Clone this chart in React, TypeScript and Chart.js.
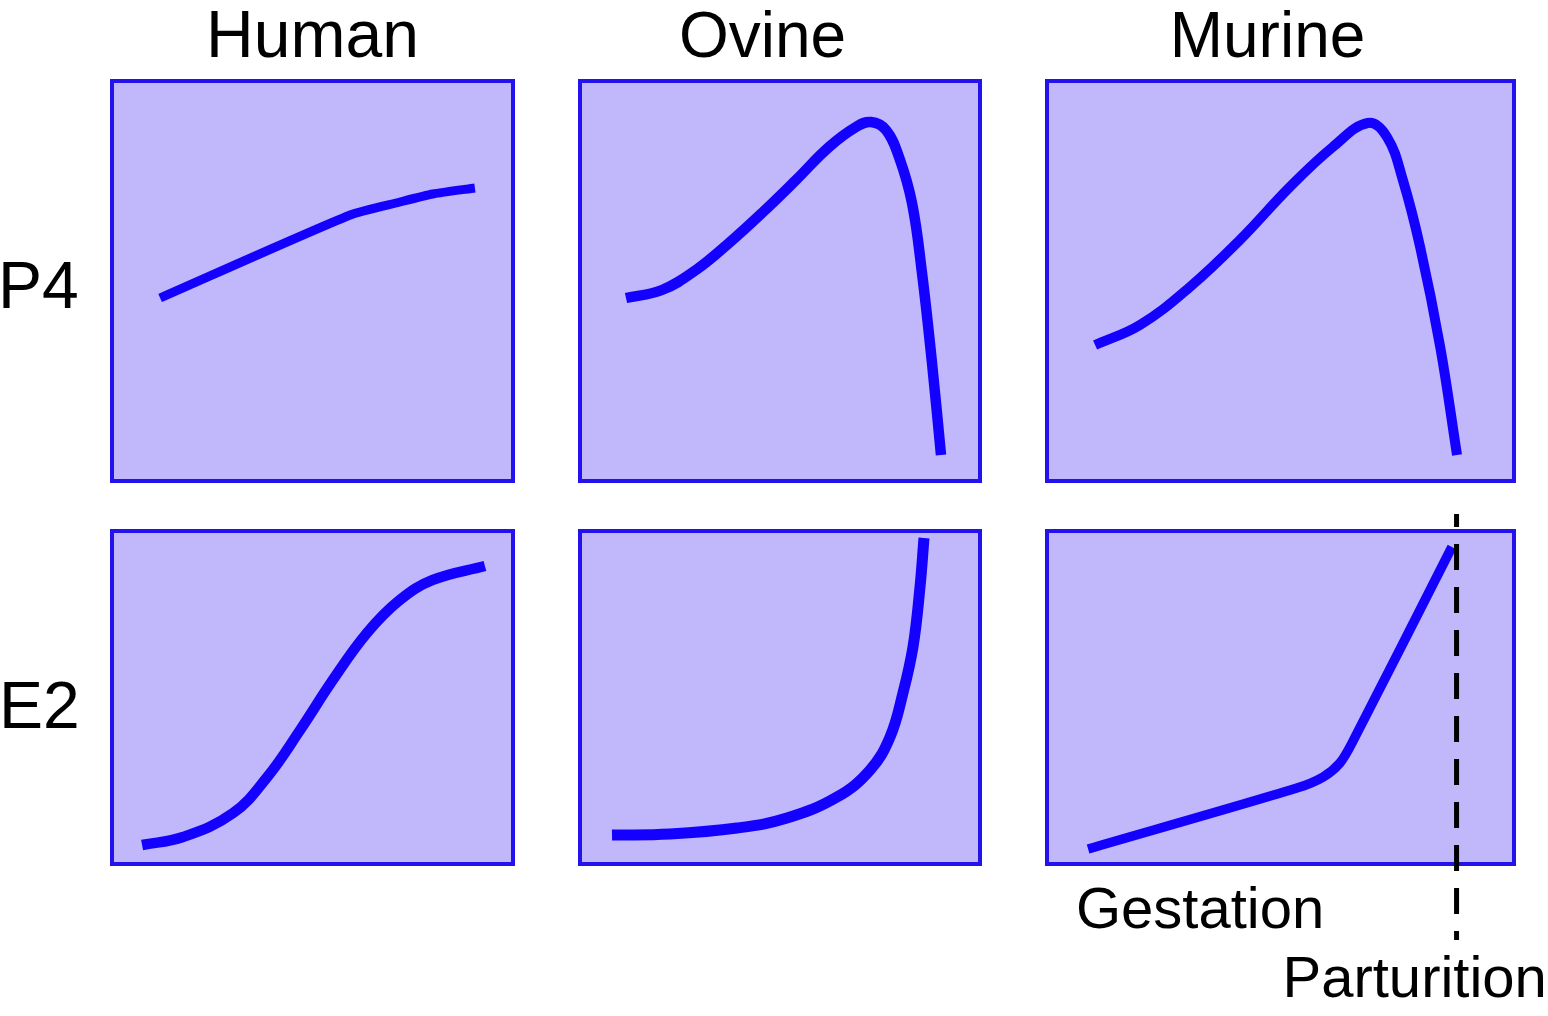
import React, { useEffect, useRef } from "react";
import { Chart, registerables } from "chart.js";

Chart.register(...registerables);

// ---- Data (x = % of gestation span shown in panel, y = relative hormone level %) ----
const HUMAN_P4_X = [12.0, 59.4, 71.8, 80.0, 90.5];
const HUMAN_P4_Y = [45.75, 66.5, 69.75, 71.75, 73.25];

const OVINE_P4_X = [11.5, 20.5, 29.0, 37.25, 45.5, 54.0, 62.25, 69.0, 72.75, 76.5, 79.75, 83.0, 85.5, 88.0, 90.25];
const OVINE_P4_Y = [45.75, 47.75, 52.75, 59.5, 67.0, 75.25, 83.5, 88.5, 89.75, 87.75, 81.0, 69.5, 52.0, 29.5, 6.5];

const MURINE_P4_X = [10.3, 19.9, 30.6, 41.3, 52.0, 61.2, 68.7, 72.8, 76.2, 79.9, 84.2, 87.8];
const MURINE_P4_Y = [34.0, 39.0, 48.5, 60.25, 73.5, 83.5, 89.5, 86.0, 75.25, 58.5, 33.5, 6.5];

const HUMAN_E2_X = [7.5, 17.7, 30.2, 38.7, 46.9, 55.1, 63.6, 71.8, 80.0, 93.0];
const HUMAN_E2_Y = [5.7, 8.1, 15.3, 26.1, 40.2, 55.3, 69.4, 79.3, 85.3, 89.5];

const OVINE_E2_X = [8.0, 22.5, 39.25, 51.75, 64.25, 72.5, 77.5, 80.75, 83.25, 85.0, 86.0];
const OVINE_E2_Y = [8.7, 9.0, 10.8, 13.8, 20.1, 28.2, 38.1, 51.4, 65.2, 83.2, 97.9];

const MURINE_E2_X = [8.8, 53.5, 59.1, 62.7, 65.3, 86.7];
const MURINE_E2_Y = [4.5, 22.8, 26.1, 30.3, 36.3, 95.2];

// Parturition marker (in Murine E2 panel units)
const PARTURITION_X = 87.7;
const PARTURITION_Y_RANGE = [105.1, -22.8];

const SPECIES = ["Human", "Ovine", "Murine"];
const HORMONES = ["P4", "E2"];
const AXIS_LABELS = ["Gestation", "Parturition"];

// ---- Styles ----
const FONT = '"Liberation Sans", Arial, Helvetica, sans-serif';
const FILL = "#c0b8fb";
const BORDER = "#2412ee";
const LINE = "#1400ff";

const COLS = [
  { left: 112, right: 513 },
  { left: 580, right: 980 },
  { left: 1047, right: 1514 },
];
const ROWS = [
  { top: 81, bottom: 481 },
  { top: 531, bottom: 864 },
];

const panelPlugin = {
  id: "panelBox",
  beforeDatasetsDraw(chart: any) {
    const { ctx, chartArea } = chart;
    const { left, top, right, bottom } = chartArea;
    ctx.save();
    ctx.fillStyle = FILL;
    ctx.fillRect(left, top, right - left, bottom - top);
    ctx.strokeStyle = BORDER;
    ctx.lineWidth = 4;
    ctx.strokeRect(left, top, right - left, bottom - top);
    ctx.restore();
  },
};

type PanelProps = {
  col: number;
  row: number;
  xs: number[];
  ys: number[];
  lineWidth: number;
  tension: number;
  marker?: boolean;
};

function Panel({ col, row, xs, ys, lineWidth, tension, marker }: PanelProps) {
  const ref = useRef<HTMLCanvasElement | null>(null);
  const c = COLS[col];
  const r = ROWS[row];
  const pad = 4;
  const padTop = marker ? 26 : pad;
  const padBottom = marker ? 86 : pad;
  const w = c.right - c.left + pad * 2;
  const h = r.bottom - r.top + padTop + padBottom;

  useEffect(() => {
    if (!ref.current) return;
    const datasets: any[] = [];
    if (marker) {
      datasets.push({
        data: [
          { x: PARTURITION_X, y: PARTURITION_Y_RANGE[0] },
          { x: PARTURITION_X, y: PARTURITION_Y_RANGE[1] },
        ],
        showLine: true,
        borderColor: "#000000",
        borderWidth: 5,
        borderDash: [26, 17],
        borderDashOffset: 13,
        pointRadius: 0,
        clip: false,
        order: -1,
      });
    }
    datasets.push({
      data: xs.map((x, i) => ({ x, y: ys[i] })),
      showLine: true,
      borderColor: LINE,
      borderWidth: lineWidth,
      pointRadius: 0,
      tension,
      borderCapStyle: "butt",
      borderJoinStyle: "round",
      fill: false,
      order: 0,
    });
    const chart = new Chart(ref.current, {
      type: "scatter",
      data: { datasets },
      options: {
        animation: false,
        responsive: false,
        devicePixelRatio: 1,
        layout: { padding: { left: pad, right: pad, top: padTop, bottom: padBottom } },
        scales: {
          x: { type: "linear", min: 0, max: 100, display: false },
          y: { type: "linear", min: 0, max: 100, display: false },
        },
        plugins: { legend: { display: false }, tooltip: { enabled: false } },
        events: [],
      },
      plugins: [panelPlugin],
    } as any);
    return () => chart.destroy();
  }, []);

  return (
    <canvas
      ref={ref}
      width={w}
      height={h}
      style={{
        position: "absolute",
        left: c.left - pad,
        top: r.top - padTop,
        width: w,
        height: h,
        display: "block",
      }}
    />
  );
}

function Label({
  text,
  x,
  baseline,
  size,
  center,
}: {
  text: string;
  x: number;
  baseline: number;
  size: number;
  center?: boolean;
}) {
  const top = baseline - size * 0.8465;
  return (
    <div
      style={{
        position: "absolute",
        left: x,
        top,
        fontSize: size,
        lineHeight: `${size}px`,
        fontFamily: FONT,
        color: "#000",
        whiteSpace: "nowrap",
        transform: center ? "translateX(-50%)" : undefined,
      }}
    >
      {text}
    </div>
  );
}

export default function App() {
  return (
    <div
      style={{
        position: "absolute",
        left: 0,
        top: 0,
        width: 1548,
        height: 1016,
        background: "#ffffff",
        overflow: "hidden",
      }}
    >
      <Panel col={0} row={0} xs={HUMAN_P4_X} ys={HUMAN_P4_Y} lineWidth={9} tension={0.2} />
      <Panel col={1} row={0} xs={OVINE_P4_X} ys={OVINE_P4_Y} lineWidth={10.5} tension={0.4} />
      <Panel col={2} row={0} xs={MURINE_P4_X} ys={MURINE_P4_Y} lineWidth={10} tension={0.4} />
      <Panel col={0} row={1} xs={HUMAN_E2_X} ys={HUMAN_E2_Y} lineWidth={10.5} tension={0.4} />
      <Panel col={1} row={1} xs={OVINE_E2_X} ys={OVINE_E2_Y} lineWidth={11} tension={0.4} />
      <Panel col={2} row={1} xs={MURINE_E2_X} ys={MURINE_E2_Y} lineWidth={9.5} tension={0.3} marker />

      <Label text={SPECIES[0]} x={312.5} baseline={57} size={66} center />
      <Label text={SPECIES[1]} x={762.5} baseline={57} size={64} center />
      <Label text={SPECIES[2]} x={1267.5} baseline={57} size={64} center />

      <Label text={HORMONES[0]} x={-2} baseline={308} size={66} />
      <Label text={HORMONES[1]} x={-1} baseline={728} size={66} />

      <Label text={AXIS_LABELS[0]} x={1076} baseline={928} size={58} />
      <Label text={AXIS_LABELS[1]} x={1282.5} baseline={997} size={58} />
    </div>
  );
}
